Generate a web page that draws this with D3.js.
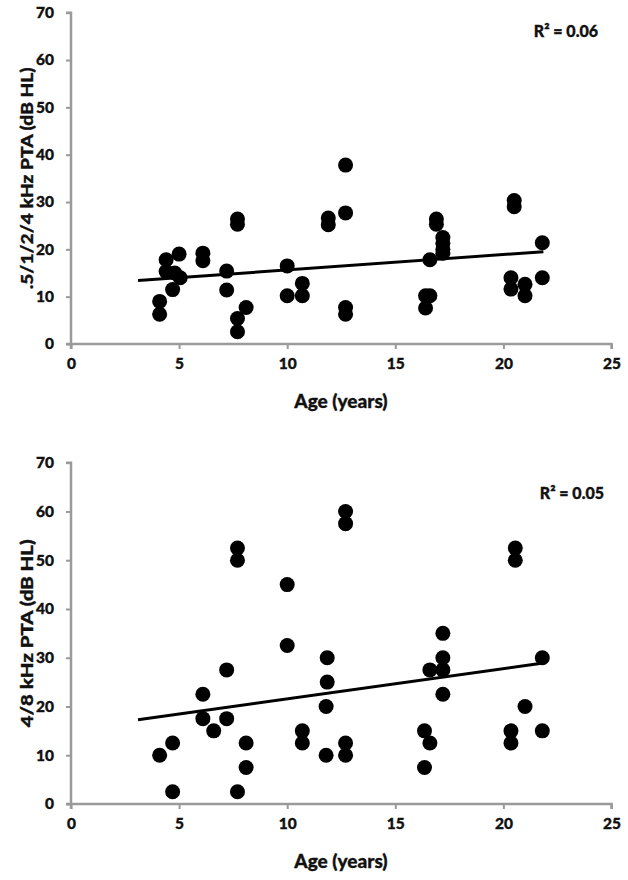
<!DOCTYPE html>
<html><head><meta charset="utf-8">
<script src="https://cdn.jsdelivr.net/npm/d3@7"></script>
<style>
html,body{margin:0;padding:0;background:#fff;}
svg text{font-family:Lato,"Open Sans",sans-serif;font-weight:900;fill:#111;stroke:#111;stroke-width:0.35px;}
</style></head>
<body>
<svg id="c" width="628" height="880"></svg>
<script>
// ---- data ----
const xTicks = [0, 5, 10, 15, 20, 25];
const yTicks = [0, 10, 20, 30, 40, 50, 60, 70];

const ageTop = [4.1,4.1,4.4,4.4,4.8,5.0,5.05,4.7,6.1,6.1,7.2,7.2,7.7,7.7,7.7,7.7,8.1,10.0,10.0,10.7,10.7,11.9,11.9,12.7,12.7,12.7,12.7,16.4,16.4,16.6,16.6,16.9,16.9,17.2,17.2,17.2,17.2,20.5,20.5,20.35,20.35,21.0,21.0,21.8,21.8];
const ptaLow = [9.0,6.3,17.8,15.3,15.0,19.0,14.0,11.5,19.2,17.6,15.4,11.4,26.4,25.3,5.4,2.6,7.7,16.5,10.2,12.8,10.2,26.6,25.2,37.8,27.7,7.7,6.3,10.2,7.6,10.2,17.8,26.4,25.3,22.5,21.3,20.0,19.2,30.3,29.0,14.0,11.6,12.6,10.2,21.4,14.0];

const ageBottom = [4.1,4.7,4.7,6.1,6.1,6.6,7.2,7.2,7.7,7.7,7.7,8.1,8.1,10.0,10.0,10.7,10.7,11.85,11.85,11.8,11.8,12.7,12.7,12.7,12.7,16.35,16.6,16.35,16.6,17.2,17.2,17.2,17.2,20.55,20.55,21.8,21.0,20.35,20.35,21.8];
const ptaHigh = [10,12.5,2.5,22.5,17.5,15,27.5,17.5,52.5,50,2.5,12.5,7.5,45,32.5,15,12.5,30,25,20,10,60,57.5,12.5,10,15,12.5,7.5,27.5,35,30,27.5,22.5,52.5,50,30,20,15,12.5,15];

const trendX = [3.1, 21.85];
const trendTopY = [13.4, 19.5];
const trendBottomY = [17.3, 28.9];

const r2Labels = ["R² = 0.06", "R² = 0.05"];
const yTitles = [".5/1/2/4 kHz PTA (dB HL)", "4/8 kHz PTA (dB HL)"];
const xTitle = "Age (years)";

// ---- drawing ----
const svg = d3.select("#c");
const axisColor = "#9a9a9a";

function panel(cfg){
  const g = svg.append("g");
  const x = d3.scaleLinear().domain([0,25]).range([71, 611.5]);
  const y = d3.scaleLinear().domain([0,70]).range([cfg.y0, cfg.y70]);

  const ax = g.append("g").attr("transform",`translate(0,${cfg.y0})`)
    .call(d3.axisBottom(x).tickValues(xTicks).tickSize(5).tickPadding(9).tickFormat(d3.format("d")));
  const ay = g.append("g").attr("transform",`translate(71,0)`)
    .call(d3.axisLeft(y).tickValues(yTicks).tickSize(5).tickPadding(12).tickFormat(d3.format("d")));
  [ax, ay].forEach(a=>{
    a.select(".domain").attr("stroke",axisColor).attr("stroke-width",2.5);
    a.selectAll(".tick line").attr("stroke",axisColor).attr("stroke-width",2);
    a.selectAll(".tick text").attr("font-size",15.5).attr("fill","#111");
  });
  ax.select(".domain").attr("d", `M71,5V0H611.5V5`);
  ay.select(".domain").attr("d", `M-5,${cfg.y70}H0V${cfg.y0}H-5`);

  g.append("g").selectAll("circle").data(cfg.xs.map((d,i)=>[d,cfg.ys[i]]))
    .join("circle")
    .attr("cx", d=>x(d[0])).attr("cy", d=>y(d[1]))
    .attr("r", 7.5).attr("fill","#000");

  g.append("path")
    .attr("d", d3.line().x(d=>x(d[0])).y(d=>y(d[1]))(trendX.map((d,i)=>[d,cfg.trend[i]])))
    .attr("stroke","#000").attr("stroke-width",3).attr("fill","none");

  g.append("text").attr("x", cfg.r2x).attr("y", cfg.r2y).attr("text-anchor","end")
    .attr("font-size",16).text(cfg.r2);

  g.append("text").attr("x", 341).attr("y", cfg.y0 + 64).attr("text-anchor","middle")
    .attr("font-size",19).text(xTitle);
  g.append("text").attr("transform",`translate(33,${(cfg.y0+cfg.y70)/2}) rotate(-90)`)
    .attr("text-anchor","middle").attr("font-size",17)
    .attr("textLength", cfg.yLen).attr("lengthAdjust","spacingAndGlyphs")
    .text(cfg.yTitle);
}

panel({y0:344, y70:12.7, xs:ageTop, ys:ptaLow, trend:trendTopY, r2:r2Labels[0], r2x:598, r2y:37, yTitle:yTitles[0], yLen:222});
panel({y0:804, y70:462.7, xs:ageBottom, ys:ptaHigh, trend:trendBottomY, r2:r2Labels[1], r2x:604, r2y:499, yTitle:yTitles[1], yLen:188});
</script>
</body></html>
